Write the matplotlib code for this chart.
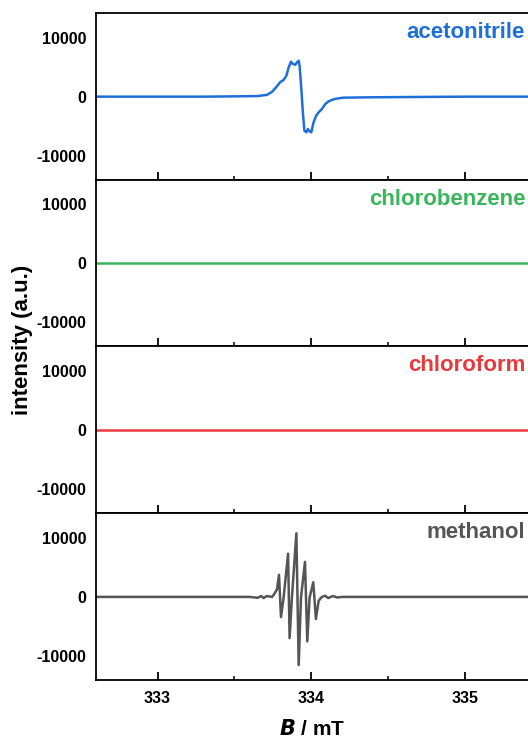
import matplotlib
matplotlib.use("Agg")
import matplotlib.pyplot as plt

plt.rcParams['font.family'] = ['Liberation Sans', 'DejaVu Sans']
plt.rcParams['font.weight'] = 'bold'

# solvents, top to bottom
solvents = ["acetonitrile", "chlorobenzene", "chloroform", "methanol"]
colors = ["#1f6fdb", "#3bb55b", "#e8393d", "#555555"]

# B field (mT) and intensity (a.u.)
b_acn = [332.60, 333.00, 333.30, 333.50, 333.65, 333.712, 333.745, 333.777, 333.799,
         333.820, 333.838, 333.853, 333.868, 333.881, 333.896, 333.907, 333.918,
         333.924, 333.933, 333.946, 333.955, 333.968, 333.978, 333.989, 334.000,
         334.015, 334.032, 334.048, 334.069, 334.091, 334.113, 334.145, 334.177,
         334.210, 334.383, 334.700, 335.000, 335.410]
i_acn = [0, 0, 0, 50, 100, 310, 820, 1780, 2490,
         2830, 3560, 4970, 5930, 5540, 5420, 5820, 6100,
         5250, 2150, -2940, -5760, -6050, -5480, -5880, -6050,
         -4350, -3220, -2660, -2090, -1240, -790, -450, -280,
         -170, -110, -50, 0, 0]

b_clb = [332.60, 333.50, 334.00, 334.50, 335.41]
i_clb = [0, 0, 0, 0, 0]

b_clf = [332.60, 333.50, 334.00, 334.50, 335.41]
i_clf = [0, 0, 0, 0, 0]

b_meoh = [332.60, 333.30, 333.60, 333.650, 333.675, 333.690, 333.710, 333.745, 333.755,
          333.777, 333.790, 333.803, 333.820, 333.849, 333.859, 333.874, 333.903,
          333.918, 333.933, 333.959, 333.974, 333.989, 334.013, 334.030, 334.048,
          334.069, 334.090, 334.110, 334.140, 334.170, 334.200, 334.600, 335.41]
i_meoh = [0, 0, 0, -150, 150, -200, 150, 0, 330,
          1270, 3750, -3420, -110, 7330, -7000, -110, 10800,
          -11570, -110, 5950, -7550, -110, 2480, -3750, -660,
          0, 200, -200, 150, -100, 0, 0, 0]

xs = [b_acn, b_clb, b_clf, b_meoh]
ys = [i_acn, i_clb, i_clf, i_meoh]

fig, axes = plt.subplots(4, 1, sharex=True, figsize=(5.28, 7.38), dpi=100)
fig.subplots_adjust(left=0.182, right=1.0, bottom=0.0786, top=0.9824, hspace=0)

for k, ax in enumerate(axes):
    ax.plot(xs[k], ys[k], color=colors[k], lw=1.8)
    ax.set_xlim(332.6, 335.41)
    ax.set_ylim(-14100, 14200)
    ax.set_yticks([-10000, 0, 10000])
    ax.set_yticklabels(["-10000", "0", "10000"])
    ax.tick_params(axis='y', length=0, pad=7, labelsize=11.5)
    ax.set_xticks([333, 334, 335])
    ax.set_xticks([333.5, 334.5], minor=True)
    ax.tick_params(axis='x', which='major', direction='in', length=5.5, width=1.3,
                   labelsize=11.5, pad=8)
    ax.tick_params(axis='x', which='minor', direction='in', length=3, width=1.1)
    ax.spines['right'].set_visible(False)
    for s in ['left', 'bottom', 'top']:
        ax.spines[s].set_linewidth(1.3)
    ax.annotate(solvents[k], xy=(1, 1), xycoords='axes fraction',
                xytext=(-2, -14), textcoords='offset points',
                ha='right', va='center', color=colors[k], fontsize=16,
                fontweight='bold')

axes[-1].set_xlabel(r"$\boldsymbol{B}$ / mT", fontsize=15, fontweight='bold',
                    labelpad=9)
fig.text(0.043, 0.539, "intensity (a.u.)", rotation=90, ha='center', va='center',
         fontsize=16, fontweight='bold')

fig.savefig("out.png", dpi=100)
